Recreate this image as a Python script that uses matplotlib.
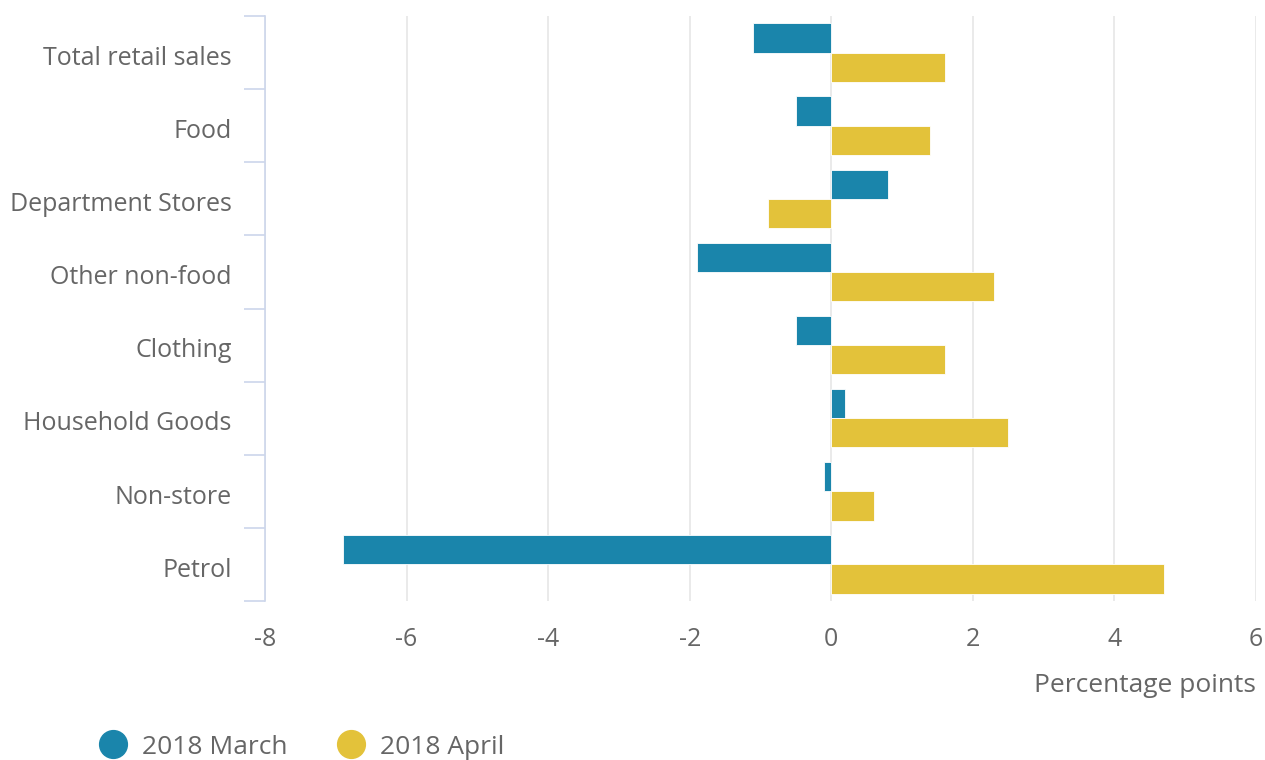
import numpy as np
from matplotlib import pyplot as plt
from matplotlib.lines import Line2D
from matplotlib.transforms import ScaledTranslation

plt.rcParams['font.family'] = ['Open Sans', 'DejaVu Sans']

# Data
categories = ['Total retail sales', 'Food', 'Department Stores', 'Other non-food',
              'Clothing', 'Household Goods', 'Non-store', 'Petrol']
march = [-1.1, -0.5, 0.8, -1.9, -0.5, 0.2, -0.1, -6.9]
april = [1.6, 1.4, -0.9, 2.3, 1.6, 2.5, 0.6, 4.7]
series_names = ['2018 March', '2018 April']
colors = ['#1a85ab', '#e3c23a']
xticks = [-8, -6, -4, -2, 0, 2, 4, 6]

text_col = '#666666'

fig = plt.figure(figsize=(12.65, 7.6), dpi=100)
ax = fig.add_axes([265/1265, 1 - 601/760, (1256-265)/1265, (601-16)/760])

y = np.arange(len(categories))
h = 0.4
ax.barh(y - h/2, march, height=h, color=colors[0], edgecolor='white', linewidth=0.6, zorder=3)
ax.barh(y + h/2, april, height=h, color=colors[1], edgecolor='white', linewidth=0.6, zorder=3)

ax.set_xlim(-8, 6)
ax.set_ylim(len(categories) - 0.5, -0.5)

# x axis
ax.set_xticks(xticks)
ax.set_xticklabels([str(t) for t in xticks])
ax.tick_params(axis='x', length=0, pad=19, labelsize=18, labelcolor=text_col)
ax.grid(axis='x', color='#e6e6e6', linewidth=1.2, zorder=0)
ax.set_xlabel('Percentage points', fontsize=19, color=text_col, loc='right', labelpad=15)

# y axis: labels centered, ticks between categories
ax.set_yticks(y)
ax.set_yticklabels(categories)
ax.tick_params(axis='y', length=0, pad=24, labelsize=18, labelcolor=text_col)
ax.set_yticks(np.arange(len(categories) + 1) - 0.5, minor=True)
ax.tick_params(axis='y', which='minor', length=15, width=1.2, color='#ccd6eb')
shift = ScaledTranslation(0, -2/72, fig.dpi_scale_trans)
for lab in ax.get_yticklabels():
    lab.set_transform(lab.get_transform() + shift)

for s in ['top', 'right', 'bottom']:
    ax.spines[s].set_visible(False)
ax.spines['left'].set_color('#ccd6eb')
ax.spines['left'].set_linewidth(1.2)

# legend
handles = [Line2D([], [], marker='o', linestyle='', markersize=20, color=c) for c in colors]
fig.legend(handles, series_names, loc='center left', bbox_to_anchor=(63/1265, 1 - 747/760),
           ncol=2, frameon=False, fontsize=19, labelcolor=text_col,
           handletextpad=0.1, columnspacing=1.4)

fig.savefig('out.png', dpi=100)
